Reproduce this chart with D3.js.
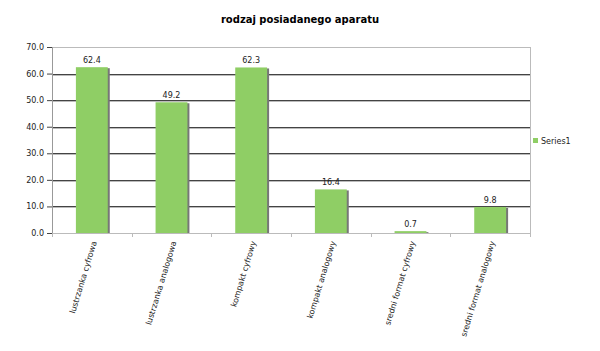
<!DOCTYPE html>
<html>
<head>
<meta charset="utf-8">
<script src="https://cdn.jsdelivr.net/npm/d3@7"></script>
<style>
  body { margin: 0; background: #fff; }
  text { font-family: "DejaVu Sans", Verdana, sans-serif; }
</style>
</head>
<body>
<svg id="drawing_region"></svg>
<script>
const categories = ["lustrzanka cyfrowa", "lustrzanka analogowa", "kompakt cyfrowy",
                    "kompakt analogowy", "sredni format cyfrowy", "sredni format analogowy"];
const series1 = [62.4, 49.2, 62.3, 16.4, 0.7, 9.8];
const yticks = [0, 10, 20, 30, 40, 50, 60, 70];

const config = {
    width: 600,
    height: 351,
    margin: {top: 47, right: 70, bottom: 118, left: 52}
};

const svg = d3.select('#drawing_region')
    .attr('width', config.width)
    .attr('height', config.height);

const inner_width = config.width - config.margin.left - config.margin.right;
const inner_height = config.height - config.margin.top - config.margin.bottom;

const chart = svg.append('g')
    .attr('transform', `translate(${config.margin.left}, ${config.margin.top})`);

const xscale = d3.scaleBand()
    .domain(categories)
    .range([0, inner_width])
    .paddingInner(0.6)
    .paddingOuter(0.3);

const yscale = d3.scaleLinear()
    .domain([0, 70])
    .range([inner_height, 0]);

// title
svg.append('text')
    .attr('x', 300)
    .attr('y', 23)
    .attr('text-anchor', 'middle')
    .attr('font-size', '10px')
    .attr('font-weight', 'bold')
    .text('rodzaj posiadanego aparatu');

// gridlines (dark with light shadow under)
chart.selectAll('.grid-shadow')
    .data(yticks.filter(d => d > 0 && d < 70))
    .enter()
    .append('line')
    .attr('x1', 0).attr('x2', inner_width)
    .attr('y1', d => Math.round(yscale(d)) + 1.5)
    .attr('y2', d => Math.round(yscale(d)) + 1.5)
    .attr('stroke', '#bbb');

chart.selectAll('.grid')
    .data(yticks.filter(d => d > 0 && d < 70))
    .enter()
    .append('line')
    .attr('x1', 0).attr('x2', inner_width)
    .attr('y1', d => Math.round(yscale(d)) + 0.5)
    .attr('y2', d => Math.round(yscale(d)) + 0.5)
    .attr('stroke', '#444');

// plot border
chart.append('rect')
    .attr('x', 0.5).attr('y', 0.5)
    .attr('width', inner_width).attr('height', inner_height)
    .attr('fill', 'none')
    .attr('stroke', '#bbb');

// bars with shadow
chart.selectAll('.shadow')
    .data(series1)
    .enter()
    .append('rect')
    .attr('x', (d, i) => xscale(categories[i]) + 2)
    .attr('y', d => yscale(d) + 1)
    .attr('width', xscale.bandwidth())
    .attr('height', d => inner_height - yscale(d) - 1)
    .attr('fill', '#777');

chart.selectAll('.bar')
    .data(series1)
    .enter()
    .append('rect')
    .attr('x', (d, i) => xscale(categories[i]))
    .attr('y', d => yscale(d))
    .attr('width', xscale.bandwidth())
    .attr('height', d => inner_height - yscale(d))
    .attr('fill', '#8fce65');

// value labels
chart.selectAll('.label')
    .data(series1)
    .enter()
    .append('text')
    .attr('x', (d, i) => xscale(categories[i]) + xscale.bandwidth() / 2)
    .attr('y', d => yscale(d) - 4)
    .attr('text-anchor', 'middle')
    .attr('font-size', '8px')
    .attr('fill', '#222')
    .text(d => d.toFixed(1));

// y axis
const yaxis = d3.axisLeft(yscale)
    .tickValues(yticks)
    .tickSize(5)
    .tickFormat(d3.format('.1f'));

chart.append('g')
    .call(yaxis)
    .call(g => g.select('.domain').attr('stroke', '#999'))
    .call(g => g.selectAll('.tick line').attr('stroke', '#444'))
    .call(g => g.selectAll('.tick text').attr('font-size', '8px').attr('fill', '#222')
        .attr('font-family', '"DejaVu Sans", Verdana, sans-serif'));

// x axis: ticks at band boundaries
const step = xscale.step();
const boundaries = d3.range(categories.length + 1).map(i => i * inner_width / categories.length);
const xaxis_group = chart.append('g')
    .attr('transform', `translate(0, ${inner_height})`);

xaxis_group.append('line')
    .attr('x1', 0).attr('x2', inner_width)
    .attr('y1', 0.5).attr('y2', 0.5)
    .attr('stroke', '#bbb');

xaxis_group.selectAll('.xtick')
    .data(boundaries)
    .enter()
    .append('line')
    .attr('x1', d => Math.round(d) + 0.5).attr('x2', d => Math.round(d) + 0.5)
    .attr('y1', 0).attr('y2', 4)
    .attr('stroke', '#bbb');

xaxis_group.selectAll('.xlabel')
    .data(categories)
    .enter()
    .append('text')
    .attr('transform', d => `translate(${xscale(d) + xscale.bandwidth() / 2 + 5}, 9) rotate(-73)`)
    .attr('text-anchor', 'end')
    .attr('font-size', '8px')
    .attr('fill', '#222')
    .text(d => d);

// legend
const legend = svg.append('g')
    .attr('transform', 'translate(533, 138)');

legend.append('rect')
    .attr('width', 5).attr('height', 5)
    .attr('fill', '#8fce65');

legend.append('text')
    .attr('x', 8)
    .attr('y', 5.5)
    .attr('font-size', '8px')
    .attr('fill', '#222')
    .text('Series1');
</script>
</body>
</html>
